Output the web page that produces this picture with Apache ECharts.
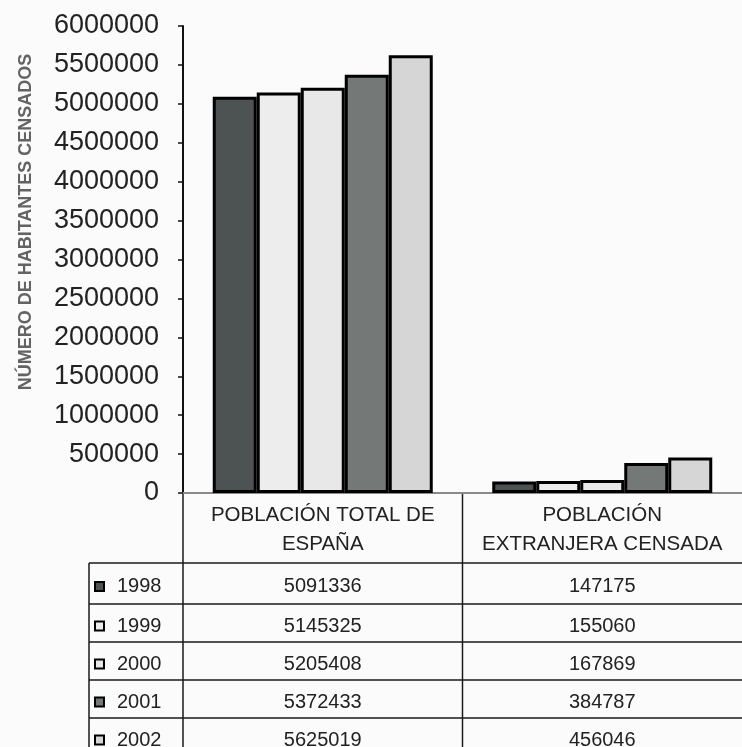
<!DOCTYPE html>
<html>
<head>
<meta charset="utf-8">
<script src="https://cdn.jsdelivr.net/npm/echarts@6/dist/echarts.min.js"></script>
<style>
html,body{margin:0;padding:0;background:#fbfbfc;}
#chart{width:742px;height:747px;}
</style>
</head>
<body>
<div id="chart"></div>
<script>
// ---- data ----
const categories = ['POBLACIÓN TOTAL DE\nESPAÑA', 'POBLACIÓN\nEXTRANJERA CENSADA'];
const years = ['1998', '1999', '2000', '2001', '2002'];
const values1998 = [5091336, 147175];
const values1999 = [5145325, 155060];
const values2000 = [5205408, 167869];
const values2001 = [5372433, 384787];
const values2002 = [5625019, 456046];
const yAxisTitle = 'NÚMERO DE HABITANTES CENSADOS';
const yMin = 0, yMax = 6000000, yStep = 500000;

const seriesValues = [values1998, values1999, values2000, values2001, values2002];
const colors = ['#4d5252', '#ededed', '#e8e8e8', '#747978', '#d6d6d6'];
const FONT = '"Liberation Sans", Arial, sans-serif';

const chart = echarts.init(document.getElementById('chart'), null, {renderer: 'canvas'});

const gridLeft = 183, gridTop = 26, gridBottom = 254;

const option = {
  backgroundColor: '#fbfbfc',
  animation: false,
  grid: {left: gridLeft, top: gridTop, right: 0, bottom: gridBottom, containLabel: false},
  xAxis: {
    type: 'category',
    data: categories,
    axisLine: {lineStyle: {color: '#8a8a8a', width: 2}},
    axisTick: {show: false},
    axisLabel: {
      interval: 0, fontFamily: FONT, fontSize: 20.5, lineHeight: 29,
      color: '#222', margin: 8
    }
  },
  yAxis: {
    type: 'value', min: yMin, max: yMax, interval: yStep,
    splitLine: {show: false},
    axisLine: {show: true, lineStyle: {color: '#111', width: 2}},
    axisTick: {show: true, length: 5, lineStyle: {color: '#111', width: 1.5}},
    axisLabel: {fontFamily: FONT, fontSize: 27, color: '#222', margin: 24,
      formatter: v => String(v)}
  },
  series: years.map((y, i) => ({
    name: y,
    type: 'bar',
    data: seriesValues[i],
    barWidth: 44,
    barGap: '0%',
    itemStyle: {color: colors[i], borderColor: '#000', borderWidth: 3}
  }))
};
chart.setOption(option);

// ---- data table below the axis ----
const rowLines = [563, 604, 642, 680, 718];
const tableLeft = 89, tableRight = 742, tableBottom = 747;
const lineColor = '#1a1a1a';
const g = [];

const c0 = chart.convertToPixel({xAxisIndex: 0}, 0);
const c1 = chart.convertToPixel({xAxisIndex: 0}, 1);
const bandW = c1 - c0;
const boundaries = [c0 - bandW / 2, c0 + bandW / 2];
const axisY = chart.convertToPixel({yAxisIndex: 0}, 0);

rowLines.forEach(y => {
  g.push({type: 'line', shape: {x1: tableLeft, y1: y, x2: tableRight, y2: y},
    style: {stroke: lineColor, lineWidth: 1.5}, silent: true});
});
boundaries.forEach(x => {
  g.push({type: 'line', shape: {x1: x, y1: axisY, x2: x, y2: tableBottom},
    style: {stroke: lineColor, lineWidth: 1.5}, silent: true});
});
g.push({type: 'line', shape: {x1: tableLeft, y1: rowLines[0], x2: tableLeft, y2: tableBottom},
  style: {stroke: lineColor, lineWidth: 1.5}, silent: true});

years.forEach((yr, i) => {
  const top = rowLines[i];
  const bottom = i + 1 < rowLines.length ? rowLines[i + 1] : top + 38;
  const cy = (top + bottom) / 2 + 3;
  g.push({type: 'rect', shape: {x: 95, y: cy - 4.5, width: 9, height: 9},
    style: {fill: colors[i], stroke: '#000', lineWidth: 2}, silent: true});
  g.push({type: 'text', x: 117, y: cy,
    style: {text: yr, font: '20px ' + FONT, fill: '#222', textAlign: 'left', textVerticalAlign: 'middle'}, silent: true});
  seriesValues[i].forEach((v, j) => {
    const cx = chart.convertToPixel({xAxisIndex: 0}, j);
    g.push({type: 'text', x: cx, y: cy,
      style: {text: String(v), font: '20px ' + FONT, fill: '#222', textAlign: 'center', textVerticalAlign: 'middle'}, silent: true});
  });
});

// y-axis title
g.push({type: 'text', x: 26, y: 222, rotation: Math.PI / 2,
  style: {text: yAxisTitle, font: 'bold 18px ' + FONT, fill: '#636363', textAlign: 'center', textVerticalAlign: 'middle'}, silent: true});

chart.setOption({graphic: {elements: g}});
</script>
</body>
</html>
